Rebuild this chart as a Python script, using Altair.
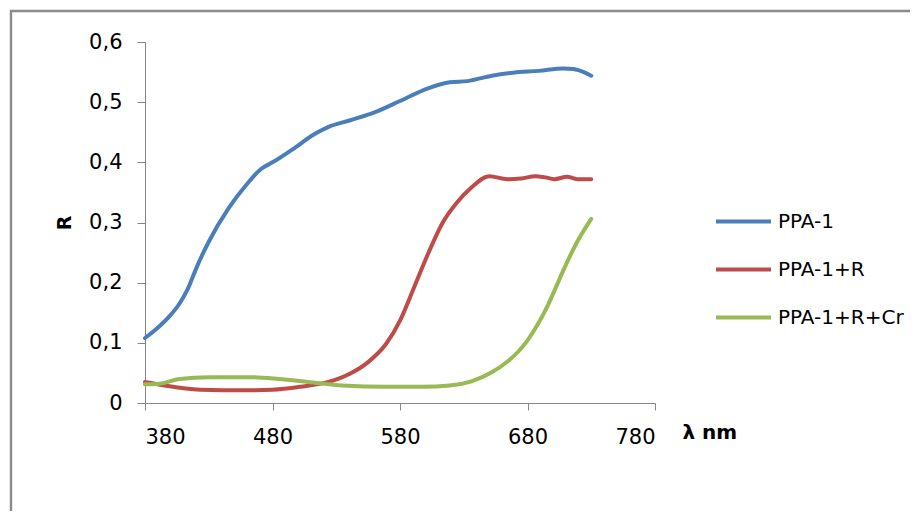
import altair as alt
import pandas as pd

# --- data ---
blue_x = [380, 390, 400, 407, 413, 421, 430, 446, 460, 471, 480, 496, 513, 524, 541, 560, 580, 602, 619, 633, 652, 669, 689, 708, 716, 725, 730]
blue_y = [0.108, 0.125, 0.146, 0.165, 0.187, 0.228, 0.268, 0.325, 0.364, 0.389, 0.400, 0.422, 0.447, 0.459, 0.470, 0.483, 0.502, 0.523, 0.533, 0.535, 0.544, 0.549, 0.552, 0.556, 0.555, 0.549, 0.544]

red_x = [380, 402, 424, 457, 480, 502, 524, 541, 555, 569, 580, 591, 602, 613, 625, 636, 650, 664, 675, 686, 694, 701, 711, 719, 730]
red_y = [0.035, 0.027, 0.022, 0.021, 0.022, 0.027, 0.035, 0.049, 0.068, 0.098, 0.137, 0.192, 0.248, 0.298, 0.334, 0.358, 0.377, 0.372, 0.373, 0.377, 0.375, 0.372, 0.376, 0.372, 0.372]

green_x = [380, 391, 407, 430, 463, 485, 508, 535, 569, 597, 619, 636, 652, 666, 673, 680, 687, 694, 701, 708, 719, 730]
green_y = [0.031, 0.032, 0.040, 0.043, 0.043, 0.040, 0.035, 0.029, 0.027, 0.027, 0.029, 0.036, 0.051, 0.072, 0.086, 0.104, 0.127, 0.154, 0.186, 0.220, 0.268, 0.306]

series_names = ["PPA-1", "PPA-1+R", "PPA-1+R+Cr"]
series_colors = ["#4a7ebb", "#be4b48", "#98b954"]

x_ticks = [380, 480, 580, 680, 780]
y_ticks = [0, 0.1, 0.2, 0.3, 0.4, 0.5, 0.6]

rows = []
for name, xs, ys in zip(series_names, [blue_x, red_x, green_x], [blue_y, red_y, green_y]):
    for i, (xv, yv) in enumerate(zip(xs, ys)):
        rows.append({"series": name, "nm": xv, "R": yv, "order": i})
df = pd.DataFrame(rows)

FONT = "DejaVu Sans"

lines = alt.Chart(df).mark_line(strokeWidth=4, interpolate="monotone", strokeCap="round").encode(
    x=alt.X("nm:Q", scale=alt.Scale(domain=[380, 780], nice=False),
            axis=alt.Axis(values=x_ticks, grid=False, title="λ nm", titleFontWeight="bold",
                          titleFontSize=20, titleFont=FONT, titleColor="#000000",
                          titleX=537, titleY=35, titleAlign="left", titleBaseline="alphabetic",
                          titleAnchor="start",
                          labelFontSize=21, labelFont=FONT, labelColor="#000000", labelPadding=16,
                          tickSize=7, tickColor="#868686", domainColor="#868686")),
    y=alt.Y("R:Q", scale=alt.Scale(domain=[0, 0.6], nice=False),
            axis=alt.Axis(values=y_ticks, grid=False, title="R", titleFontWeight="bold",
                          titleFontSize=19, titleFont=FONT, titleColor="#000000",
                          titleX=-75, titleAngle=270, titleBaseline="alphabetic",
                          labelExpr="datum.value == 0 ? '0' : replace(format(datum.value, '.1f'), '.', ',')",
                          labelFontSize=21, labelFont=FONT, labelColor="#000000", labelPadding=15,
                          tickSize=8, tickColor="#868686", domainColor="#868686")),
    color=alt.Color("series:N", scale=alt.Scale(domain=series_names, range=series_colors),
                    legend=alt.Legend(title=None, orient="none", legendX=569, legendY=150,
                                      symbolType="stroke", symbolSize=3025, symbolStrokeWidth=4,
                                      labelFontSize=20, labelFont=FONT, labelColor="#000000",
                                      labelOffset=5, rowPadding=8)),
    order="order:Q",
)

frame = alt.Chart(pd.DataFrame({"f": [0]})).mark_rect(
    filled=False, stroke="#8c8c8c", strokeWidth=2.4
).encode(x=alt.value(-134), x2=alt.value(900), y=alt.value(-31), y2=alt.value(600))

chart = alt.layer(frame, lines).properties(
    width=510, height=361,
    autosize=alt.AutoSizeParams(type="none"),
    padding={"left": 137, "top": 34, "right": 255, "bottom": 108},
).configure_view(stroke=None)

chart.save("out.html", embed_options={"renderer": "svg", "actions": False})
